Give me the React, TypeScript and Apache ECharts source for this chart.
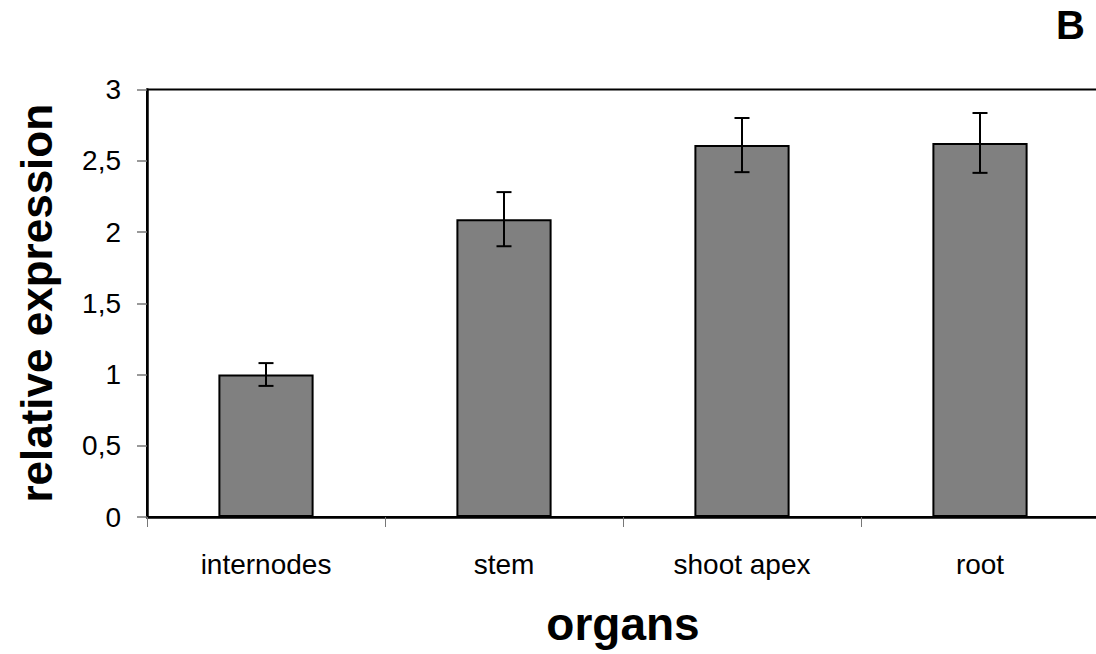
import React, { useEffect, useRef } from "react";
import * as echarts from "echarts";

const categories = ["internodes", "stem", "shoot apex", "root"];
const values = [1.0, 2.09, 2.61, 2.625];
const errors = [0.08, 0.19, 0.19, 0.21];
const yTicks = [0, 0.5, 1, 1.5, 2, 2.5, 3];

export default function App() {
  const ref = useRef<HTMLDivElement>(null);
  useEffect(() => {
    if (!ref.current) return;
    const chart = echarts.init(ref.current, null, { renderer: "svg" });
    const font = "Liberation Sans, Arial, sans-serif";
    chart.setOption({
      animation: false,
      backgroundColor: "#fff",
      grid: {
        left: 147,
        top: 89.5,
        width: 952,
        height: 427.5,
        outerBoundsMode: "none",
        containLabel: false,
        show: true,
        borderColor: "#000",
        borderWidth: 2,
        backgroundColor: "transparent",
      },
      title: {
        text: "B",
        right: 6,
        top: 0,
        textStyle: { fontFamily: font, fontWeight: "bold", fontSize: 40, color: "#000" },
      },
      xAxis: {
        type: "category",
        data: categories,
        name: "organs",
        nameLocation: "middle",
        nameGap: 84,
        nameTextStyle: { fontFamily: font, fontWeight: "bold", fontSize: 46, color: "#000" },
        axisLine: { lineStyle: { color: "#000", width: 2.5 } },
        axisTick: { show: true, length: 10, lineStyle: { color: "#777", width: 1 } },
        axisLabel: { fontFamily: font, fontSize: 28, color: "#000", margin: 33 },
        splitLine: { show: false },
      },
      yAxis: {
        type: "value",
        min: 0,
        max: 3,
        interval: 0.5,
        name: "relative expression",
        nameLocation: "middle",
        nameGap: 89,
        nameTextStyle: { fontFamily: font, fontWeight: "bold", fontSize: 44, color: "#000" },
        axisLine: { show: true, lineStyle: { color: "#000", width: 2.5 } },
        axisTick: { show: true, length: 10, lineStyle: { color: "#777", width: 1.5 } },
        axisLabel: {
          fontFamily: font,
          fontSize: 28,
          color: "#000",
          margin: 26,
          formatter: (v: number) => (yTicks.includes(v) ? String(v).replace(".", ",") : ""),
        },
        splitLine: { show: false },
      },
      series: [
        {
          type: "bar",
          data: values,
          barWidth: "40%",
          itemStyle: { color: "#808080", borderColor: "#000", borderWidth: 2 },
          z: 2,
        },
        {
          type: "custom",
          z: 3,
          data: values.map((v, i) => [i, v - errors[i], v + errors[i]]),
          renderItem: (params: any, api: any) => {
            const x = api.value(0);
            const lo = api.coord([x, api.value(1)]);
            const hi = api.coord([x, api.value(2)]);
            const cap = 7.5;
            const style = { stroke: "#000", lineWidth: 2 };
            return {
              type: "group",
              children: [
                { type: "line", shape: { x1: lo[0], y1: lo[1], x2: hi[0], y2: hi[1] }, style },
                { type: "line", shape: { x1: hi[0] - cap, y1: hi[1], x2: hi[0] + cap, y2: hi[1] }, style },
                { type: "line", shape: { x1: lo[0] - cap, y1: lo[1], x2: lo[0] + cap, y2: lo[1] }, style },
              ],
            };
          },
        },
      ],
    });
    return () => chart.dispose();
  }, []);
  return (
    <div
      ref={ref}
      style={{ position: "fixed", left: 0, top: 0, width: 1096, height: 654 }}
    />
  );
}
